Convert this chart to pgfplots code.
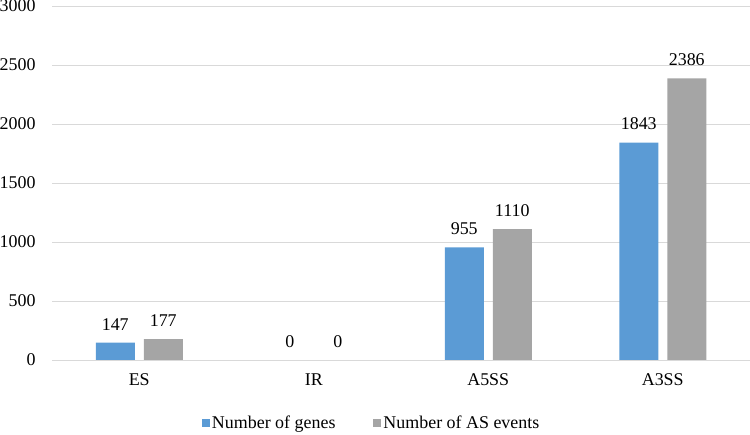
\documentclass[border=0pt]{standalone}
\usepackage{fontspec}
\setmainfont{Liberation Serif}
\usepackage{pgfplots}
\pgfplotsset{compat=1.18}
\definecolor{cblue}{HTML}{5B9BD5}
\definecolor{cgray}{HTML}{A5A5A5}
\definecolor{gridc}{HTML}{D9D9D9}
\begin{document}
\begin{tikzpicture}[x=1bp,y=1bp]
\begin{axis}[
  at={(52bp,75bp)}, anchor=south west,
  scale only axis, width=698bp, height=354bp,
  xmin=-0.5, xmax=3.5, ymin=0, ymax=3000,
  ybar=9bp, bar width=39bp,
  xtick={0,1,2,3}, xticklabels={ES,IR,A5SS,A3SS},
  ytick={0,500,...,3000},
  ymajorgrids, grid style={gridc, line width=0.9bp},
  axis line style={draw=none},
  major tick length=0pt,
  tick label style={font=\fontsize{18}{21}\selectfont},
  /pgf/number format/assume math mode=true,
  /pgf/number format/1000 sep={},
  yticklabel style={xshift=-13bp},
  xticklabel style={yshift=-10bp},
  nodes near coords,
  nodes near coords style={font=\fontsize{18}{21}\selectfont, yshift=9bp},
  legend style={at={(0.458,-0.178)}, anchor=center, draw=none, fill=none,
    legend columns=2, font=\fontsize{18}{21}\selectfont,
    /tikz/every even column/.append style={column sep=36bp}},
  legend image code/.code={\fill[#1] (0bp,-4bp) rectangle (8bp,4bp);},
]
\addplot[fill=cblue, draw=none] coordinates {(0,147)(1,0)(2,955)(3,1843)};
\addplot[fill=cgray, draw=none] coordinates {(0,177)(1,0)(2,1110)(3,2386)};
\legend{Number of genes, Number of AS events}
\end{axis}
\pgfresetboundingbox
\path (0,0) rectangle (750bp,435bp);
\end{tikzpicture}
\end{document}
